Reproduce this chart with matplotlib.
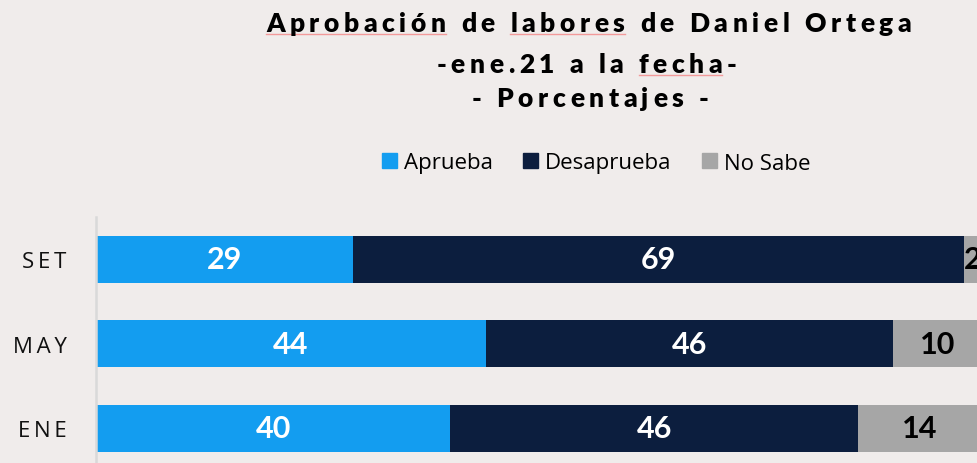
import matplotlib
matplotlib.use("Agg")
import matplotlib.pyplot as plt
from matplotlib.patches import Patch
from matplotlib.font_manager import FontProperties, findfont, get_font
import numpy as np

# ---- data ----
categories = ["ENE", "MAY", "SET"]
aprueba = [40, 44, 29]
desaprueba = [46, 46, 69]
no_sabe = [14, 10, 2]
series_names = ["Aprueba", "Desaprueba", "No Sabe"]
title_lines = ["Aprobación de labores de Daniel Ortega", "-ene.21 a la fecha-", "- Porcentajes -"]

# ---- style ----
BG = "#F0ECEB"
C_APR = "#139DF0"
C_DES = "#0C1E3E"
C_NS = "#A6A6A6"
W, H, DPI = 977, 464, 100

fig = plt.figure(figsize=(W / DPI, H / DPI), dpi=DPI, facecolor=BG)


def spaced_text(s, cx, baseline_y, size, family, weight, tracking, color="black"):
    """Draw text centred at cx (px), baseline at baseline_y (px from top), with letter spacing."""
    prop = FontProperties(family=family, weight=weight, size=size)
    font = get_font(findfont(prop))
    font.set_size(size, DPI)
    advs = []
    for c in s:
        g = font.load_char(ord(c))
        advs.append(g.linearHoriAdvance / 65536)
    total = sum(advs) + tracking * (len(s) - 1)
    x = cx - total / 2
    pos = []
    for c, a in zip(s, advs):
        fig.text(x / W, 1 - baseline_y / H, c, fontproperties=prop, color=color,
                 ha="left", va="baseline")
        pos.append((x, a))
        x += a + tracking
    return pos


# title
TW = "heavy"
TRK = 4.6
p1 = spaced_text(title_lines[0], 588.5, 32, 19, "Lato", TW, TRK)
p2 = spaced_text(title_lines[1], 586.5, 73, 19, "Lato", TW, TRK)
p3 = spaced_text(title_lines[2], 590, 107, 19, "Lato", TW, TRK)


def squiggle(pos, i0, i1, y):
    x0 = pos[i0][0]
    x1 = pos[i1][0] + pos[i1][1]
    fig.add_artist(plt.Line2D([x0 / W, x1 / W], [1 - y / H, 1 - y / H],
                              color="#F29A9A", lw=1.0, transform=fig.transFigure))


squiggle(p1, 0, 9, 35)      # Aprobación
squiggle(p1, 14, 20, 35)    # labores
squiggle(p2, 13, 17, 76)    # fecha

# axes
left_px, top_px = 96, 218
px_per_unit = 8.86
unit_h = 84.5
ax_w = 100 * px_per_unit
ax_h = 3 * unit_h
ax = fig.add_axes([left_px / W, 1 - (top_px + ax_h) / H, ax_w / W, ax_h / H])
ax.set_facecolor(BG)
ax.set_xlim(0, 100)
ax.set_ylim(-0.5, 2.5)

y = np.arange(len(categories))
bh = 0.555
a = np.array(aprueba)
d = np.array(desaprueba)
n = np.array(no_sabe)
ax.barh(y, a, height=bh, color=C_APR, label=series_names[0])
ax.barh(y, d, left=a, height=bh, color=C_DES, label=series_names[1])
ax.barh(y, n, left=a + d, height=bh, color=C_NS, label=series_names[2])

lab_prop = dict(family="Lato", weight="bold", size=22)
for i in range(len(categories)):
    ax.text(a[i] / 2, y[i], str(a[i]), ha="center", va="center", color="white", **lab_prop)
    ax.text(a[i] + d[i] / 2, y[i], str(d[i]), ha="center", va="center", color="white", **lab_prop)
    ax.text(a[i] + d[i] + n[i] / 2, y[i], str(n[i]), ha="center", va="center",
            color="black", clip_on=False, **lab_prop)

ax.set_yticks(y)
ax.set_yticklabels(["\u2009".join(c) for c in categories],
                   family=["Open Sans", "DejaVu Sans"], fontsize=16, color="#111111")
ax.tick_params(axis="y", length=0, pad=21)
ax.set_xticks([])
for sp in ["top", "right", "bottom"]:
    ax.spines[sp].set_visible(False)
ax.spines["left"].set_color("#D9D9D9")
ax.spines["left"].set_linewidth(1.8)

# legend
handles = [Patch(color=C_APR), Patch(color=C_DES), Patch(color=C_NS)]
fig.legend(handles, series_names, loc="center", bbox_to_anchor=(596 / W, 1 - 164 / H),
           ncol=3, frameon=False, prop=FontProperties(family="Open Sans", size=16),
           handlelength=0.68, handleheight=0.68, handletextpad=0.32,
           columnspacing=1.35, borderaxespad=0, borderpad=0)

fig.savefig("out.png", dpi=DPI, facecolor=BG)
